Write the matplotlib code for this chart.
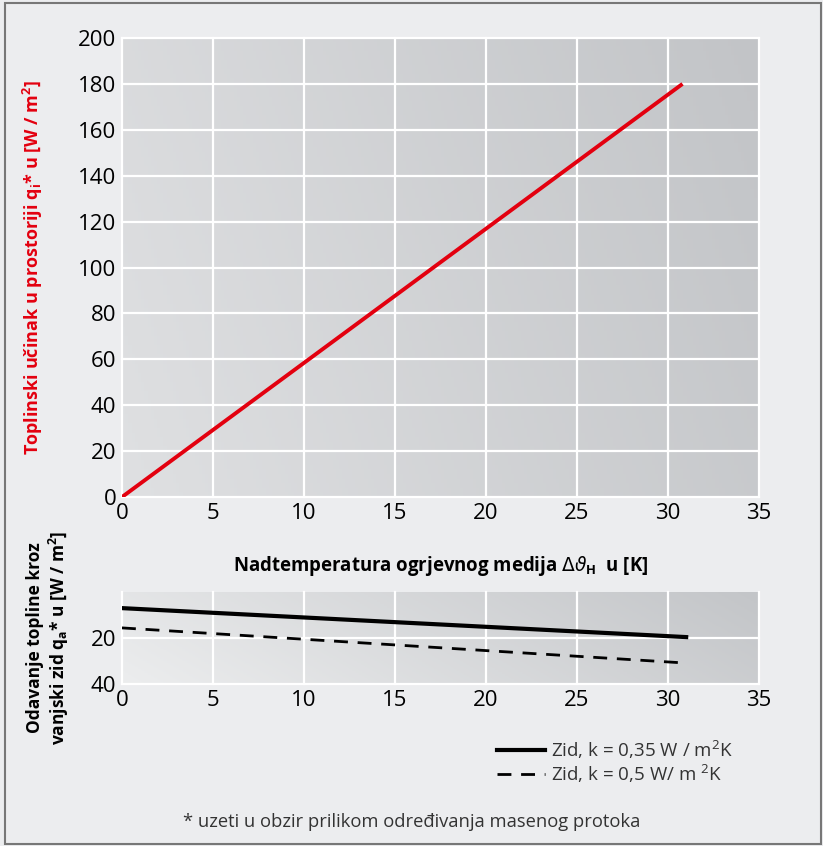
import numpy as np
import matplotlib
matplotlib.use('Agg')
import matplotlib.pyplot as plt
from matplotlib.patches import Rectangle
from matplotlib.colors import LinearSegmentedColormap

plt.rcParams['font.family'] = ['Open Sans', 'DejaVu Sans']

# data
dT_room = [0, 30.8]
q_room = [0, 180]

dT_wall = [0, 31]
q_wall_035 = [7.0, 19.6]
q_wall_05 = [15.6, 30.9]

x_ticks = [0, 5, 10, 15, 20, 25, 30, 35]
y_ticks_top = [0, 20, 40, 60, 80, 100, 120, 140, 160, 180, 200]
y_ticks_bot = [20, 40]

fig_bg = '#ecedef'
fig = plt.figure(figsize=(8.23, 8.46), dpi=100, facecolor=fig_bg)

def gradient(ax, c1, c2):
    cmap = LinearSegmentedColormap.from_list('g', [c1, c2])
    xx, yy = np.meshgrid(np.linspace(0, 1, 200), np.linspace(0, 1, 100))
    ax.imshow(0.8 * xx + 0.2 * (1 - yy), cmap=cmap, extent=[0, 1, 0, 1], origin='upper',
              transform=ax.transAxes, aspect='auto', zorder=0, vmin=0, vmax=1)

def style(ax):
    for s in ax.spines.values():
        s.set_visible(False)
    ax.grid(True, color='white', lw=1.6, zorder=1)
    ax.tick_params(length=0, labelsize=16, pad=4)
    for g in ax.get_xgridlines() + ax.get_ygridlines():
        g.set_clip_on(False)

ax1 = fig.add_axes([0.1482, 0.4125, 0.774, 0.5426])
gradient(ax1, '#dfe0e2', '#c2c4c7')
ax1.plot(dT_room, q_room, color='#e3000f', lw=2.8, zorder=3, solid_capstyle='butt')
ax1.set_xlim(0, 35)
ax1.set_ylim(0, 200)
ax1.set_xticks(x_ticks)
ax1.set_yticks(y_ticks_top)
style(ax1)
ax1.set_ylabel('Toplinski učinak u prostoriji q$_\\mathregular{i}$* u [W / m$^\\mathregular{2}$]',
               color='#e3000f', fontsize=13, fontweight='bold', labelpad=24)
ax1.set_xlabel('Nadtemperatura ogrjevnog medija $\\Delta\\vartheta_\\mathregular{H}$  u [K]',
               fontsize=13.4, fontweight='bold', labelpad=22)

ax2 = fig.add_axes([0.1482, 0.1915, 0.774, 0.1087])
gradient(ax2, '#ecedee', '#c3c5c8')
ax2.plot(dT_wall, q_wall_035, color='black', lw=3, zorder=3,
         label='Zid, k = 0,35 W / m$^\\mathregular{2}$K')
ax2.plot(dT_wall, q_wall_05, color='black', lw=2, ls=(0, (5, 3.5)), zorder=3,
         label='Zid, k = 0,5 W/ m $^\\mathregular{2}$K')
ax2.set_xlim(0, 35)
ax2.set_ylim(40, 0)
ax2.set_xticks(x_ticks)
ax2.set_yticks(y_ticks_bot)
style(ax2)
ax2.set_ylabel('Odavanje topline kroz\nvanjski zid q$_\\mathregular{a}$* u [W / m$^\\mathregular{2}$]',
               fontsize=12.5, fontweight='bold', labelpad=14)

leg = fig.legend(loc='upper left', bbox_to_anchor=(0.583, 0.1475), frameon=False,
                 fontsize=13.5, handlelength=2.6, handletextpad=0.3, labelspacing=0.05,
                 labelcolor='#333333')

fig.text(0.5, 0.022, '* uzeti u obzir prilikom određivanja masenog protoka',
         ha='center', fontsize=13.2, color='#333333')

fig.patches.append(Rectangle((0.006, 0.002), 0.992, 0.994, transform=fig.transFigure,
                             fill=False, edgecolor='#777777', lw=1.5))

fig.savefig('out.png', dpi=100, facecolor=fig_bg)
